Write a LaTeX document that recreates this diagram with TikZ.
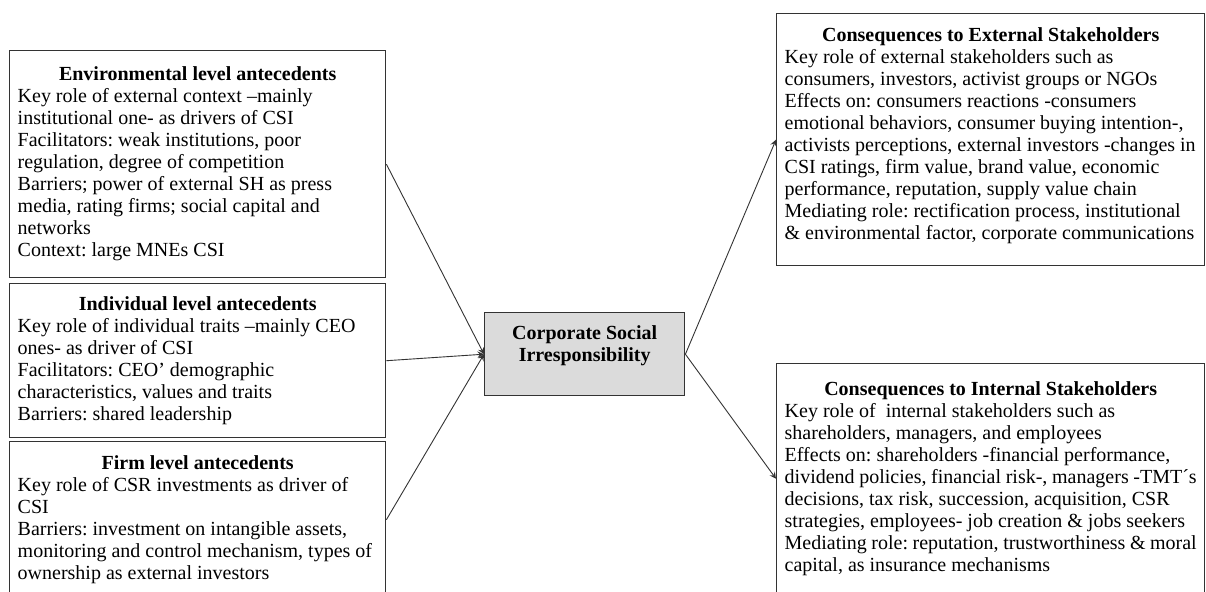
\documentclass[tikz,border=0pt]{standalone}
\usepackage{fontspec}
\setmainfont{Liberation Serif}
\begin{document}
\begin{tikzpicture}[x=0.5pt, y=-0.5pt, >=stealth,
  font=\fontsize{10}{11}\selectfont\frenchspacing,
  box/.style={draw=black!80, line width=0.7pt, anchor=north west, align=flush left, inner xsep=4pt, inner ysep=0pt},
  leftbox/.style={box, text width=180pt, minimum width=188pt},
  rightbox/.style={box, text width=206pt, minimum width=214pt},
  csibox/.style={draw=black!80, fill=black!14, line width=0.7pt, anchor=north west, align=center, font=\fontsize{10}{11}\selectfont\bfseries, minimum width=100pt, minimum height=41.5pt},
  link/.style={->, draw=black!80, line width=0.45pt}]
  \useasboundingbox (0,0) rectangle (1206,591);
  \clip (0,0) rectangle (1206,591);
  % antecedents
  \node[leftbox, minimum height=113.5pt] (env) at (9,50) {\makebox[\linewidth]{\textbf{Environmental level antecedents}}\\
    Key role of external context --mainly\\
    institutional one- as drivers of CSI\\
    Facilitators: weak institutions, poor\\
    regulation, degree of competition\\
    Barriers; power of external SH as press\\
    media, rating firms; social capital and\\
    networks\\
    Context: large MNEs CSI};
  \node[leftbox, minimum height=77pt] (ind) at (9,283) {\makebox[\linewidth]{\textbf{Individual level antecedents}}\\
    Key role of individual traits --mainly CEO\\
    ones- as driver of CSI\\
    Facilitators: CEO’ demographic\\
    characteristics, values and traits\\
    Barriers: shared leadership};
  \node[leftbox, minimum height=78pt] (firm) at (9,441) {\makebox[\linewidth]{\textbf{Firm level antecedents}}\\
    Key role of CSR investments as driver of\\
    CSI\\
    Barriers: investment on intangible assets,\\
    monitoring and control mechanism, types of\\
    ownership as external investors};
  % centre
  \node[csibox] (csi) at (484,312) {Corporate Social\\Irresponsibility\\ \mbox{}};
  % consequences
  \node[rightbox, minimum height=126pt] (ext) at (776,13) {\makebox[\linewidth]{\textbf{Consequences to External Stakeholders}}\\
    Key role of external stakeholders such as\\
    consumers, investors, activist groups or NGOs\\
    Effects on: consumers reactions -consumers\\
    emotional behaviors, consumer buying intention-,\\
    activists perceptions, external investors -changes in\\
    CSI ratings, firm value, brand value, economic\\
    performance, reputation, supply value chain\\
    Mediating role: rectification process, institutional\\
    \& environmental factor, corporate communications\par\kern4pt};
  \node[rightbox, minimum height=115pt] (int) at (776,363) {\makebox[\linewidth]{\textbf{Consequences to Internal Stakeholders}}\\
    Key role of \ internal stakeholders such as\\
    shareholders, managers, and employees\\
    Effects on: shareholders -financial performance,\\
    dividend policies, financial risk-, managers -TMT´s\\
    decisions, tax risk, succession, acquisition, CSR\\
    strategies, employees- job creation \& jobs seekers\\
    Mediating role: reputation, trustworthiness \& moral\\
    capital, as insurance mechanisms};
  % arrows
  \foreach \n in {env,ind,firm}
    \draw[link] (\n.east) -- (csi.west);
  \foreach \n in {ext,int}
    \draw[link] (csi.east) -- (\n.west);
\end{tikzpicture}
\end{document}
